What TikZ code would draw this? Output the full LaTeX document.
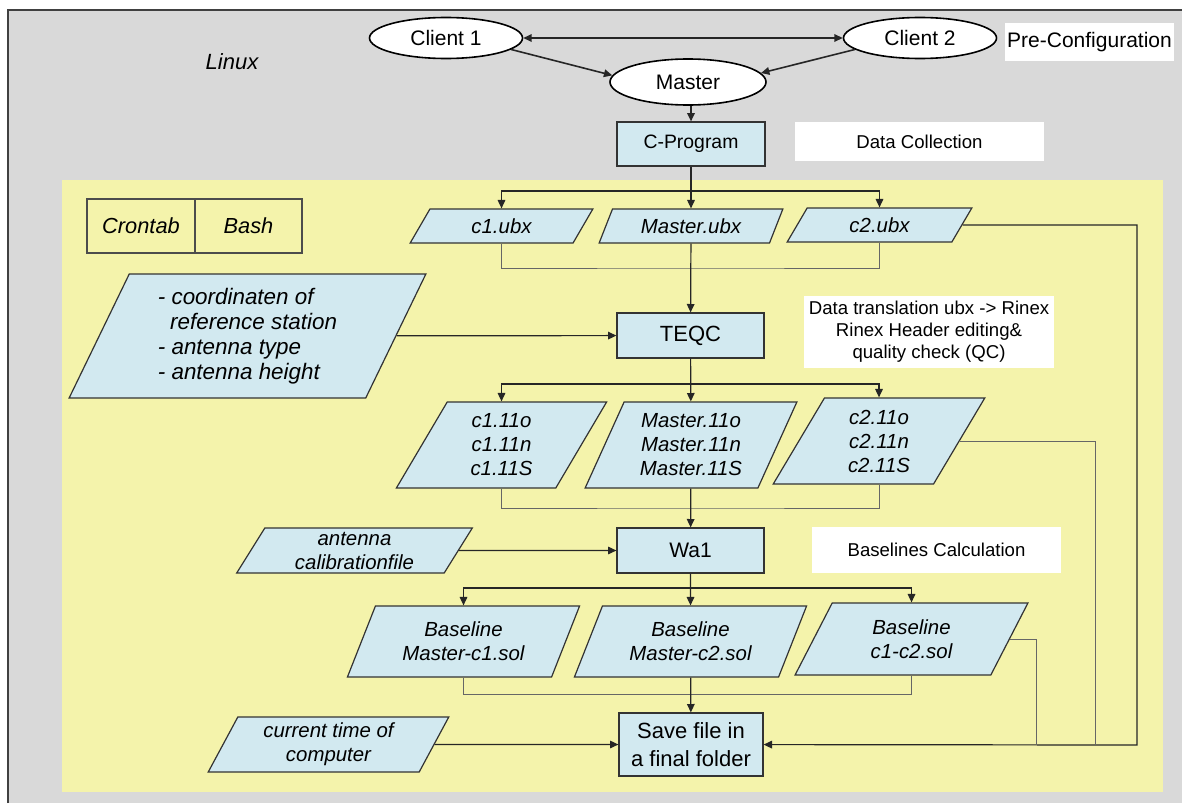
\documentclass[tikz,border=0pt]{standalone}
\usepackage{fontspec}
\setmainfont{Liberation Sans}
\usetikzlibrary{shapes.geometric,arrows.meta}

\definecolor{bggray}{HTML}{D9D9D9}
\definecolor{bgyellow}{HTML}{F4F3AB}
\definecolor{boxblue}{HTML}{D2E9F0}

\tikzset{
  proc/.style={draw=black!80, fill=boxblue, rectangle, line width=0.6pt,
    inner sep=1pt, align=center, font=\fontsize{10.5}{12}\selectfont},
  io/.style={draw=black!80, fill=boxblue, trapezium, trapezium left angle=65,
    trapezium right angle=115, trapezium stretches=true, line width=0.6pt,
    inner sep=1pt, align=center, font=\fontsize{10.2}{12}\selectfont\itshape},
  client/.style={draw=black, fill=white, ellipse, line width=0.8pt, inner sep=1pt,
    minimum width=76.5pt, minimum height=20.5pt, font=\fontsize{10.5}{12}\selectfont},
  infobox/.style={fill=white, inner sep=1pt, align=center,
    font=\fontsize{9.3}{11}\selectfont},
  tool/.style={draw=black!70, line width=0.6pt, minimum height=27pt,
    font=\fontsize{10.9}{12}\selectfont\itshape},
  conn/.style={draw=black!85, line width=0.6pt},
  thinconn/.style={draw=black!60, line width=0.45pt},
  arr/.style={conn, -{Triangle[length=4.2pt,width=3.8pt]}},
}

\begin{document}
\begin{tikzpicture}[x=0.5pt,y=-0.5pt]
  \useasboundingbox (0,0) rectangle (1182,803);
  % background areas
  \fill[bggray] (8,10) rectangle (1182,803);
  \draw[black!75, line width=0.6pt] (8,803) -- (8,10) -- (1182,10);
  \fill[bgyellow] (62,180) rectangle (1163,792);

  % pre-configuration
  \node[font=\fontsize{11}{13}\selectfont\itshape] (linux) at (232,62) {Linux};
  \node[client] (client1) at (446,38) {Client 1};
  \node[client] (client2) at (920,38) {Client 2};
  \node[client, minimum width=78pt, minimum height=23pt] (master) at (688,82) {Master};
  \node[infobox, minimum width=83.5pt, minimum height=19pt,
    font=\fontsize{10.5}{12}\selectfont] (preconf) at (1089.5,42) {Pre-Configuration};

  \draw[conn, line width=0.8pt, {Triangle[length=4.2pt,width=3.8pt]}-{Triangle[length=4.2pt,width=3.8pt]}]
    (client1) -- (client2);
  \draw[arr, line width=0.8pt] (client1.-10) -- (master.175);
  \draw[arr, line width=0.8pt] (client2.190) -- (master.7);

  % data collection
  \node[proc, minimum width=74pt, minimum height=22pt,
    font=\fontsize{9.7}{12}\selectfont] (cprog) at (691,144) {C-Program};
  \node[infobox, minimum width=124.5pt, minimum height=19.5pt] (datacoll) at (919.5,141.5) {Data Collection};
  \draw[arr, line width=0.8pt] (master.south -| cprog) -- (cprog);

  \node[tool, minimum width=54pt] (crontab) at (141,226) {Crontab};
  \node[tool, minimum width=53.5pt] (bash) at (248.5,226) {Bash};

  \node[io, minimum width=91.5pt, minimum height=17pt] (c1ubx) at (501.5,226) {c1.ubx};
  \node[io, minimum width=92pt, minimum height=17pt] (mubx) at (691,226) {Master.ubx};
  \node[io, minimum width=92.5pt, minimum height=17pt] (c2ubx) at (879.5,225) {c2.ubx};

  \coordinate (bus1) at (691,191);
  \coordinate (join1) at (691,268);
  \draw[arr] (cprog) -- (mubx);
  \draw[arr] (bus1) -| (c1ubx);
  \draw[arr] (bus1) -| (c2ubx);
  \draw[thinconn] (c1ubx) |- (join1) -| (c2ubx);

  % rinex translation
  \node[proc, minimum width=73.5pt, minimum height=22.5pt,
    font=\fontsize{11}{12}\selectfont] (teqc) at (690.5,335.5) {TEQC};
  \node[infobox, minimum width=125pt, minimum height=36pt] (transl) at (929,332)
    {Data translation ubx -> Rinex\\Rinex Header editing\&\\quality check (QC)};
  \node[io, minimum width=178.5pt, minimum height=62pt, align=left,
    font=\fontsize{11.2}{12.5}\selectfont\itshape] (coord) at (247.5,336)
    {- coordinaten of\\\hspace*{0.55em}reference station\\- antenna type\\- antenna height};
  \draw[arr] (mubx) -- (teqc);
  \draw[arr] (coord) -- (teqc);

  \node[io, minimum width=105.5pt, minimum height=43pt] (c1rnx) at (501.5,445) {c1.11o\\c1.11n\\c1.11S};
  \node[io, minimum width=106pt, minimum height=43pt] (mrnx) at (691,445) {Master.11o\\Master.11n\\Master.11S};
  \node[io, minimum width=106pt, minimum height=43pt] (c2rnx) at (879,441) {c2.11o\\c2.11n\\c2.11S};

  \coordinate (bus2) at (691,384);
  \coordinate (join2) at (691,508);
  \draw[arr] (teqc) -- (mrnx);
  \draw[arr] (bus2) -| (c1rnx);
  \draw[arr] (bus2) -| (c2rnx);
  \draw[thinconn] (c1rnx) |- (join2) -| (c2rnx);

  % baselines
  \node[proc, minimum width=73.5pt, minimum height=22.5pt] (wa1) at (690.5,550.5) {Wa1};
  \node[infobox, minimum width=124.5pt, minimum height=23pt] (blcalc) at (936.5,550) {Baselines Calculation};
  \node[io, minimum width=118.5pt, minimum height=22.5pt] (calib) at (354.5,550.5) {antenna\\calibrationfile};
  \draw[arr] (mrnx) -- (wa1);
  \draw[arr] (calib) -- (wa1);

  \node[io, minimum width=116.5pt, minimum height=35.5pt] (bl1) at (463.5,641.5) {Baseline\\Master-c1.sol};
  \node[io, minimum width=116.5pt, minimum height=35.5pt] (bl2) at (690.5,641.5) {Baseline\\Master-c2.sol};
  \node[io, minimum width=116.5pt, minimum height=36pt] (bl3) at (911.5,639) {Baseline\\c1-c2.sol};

  \coordinate (bus3) at (691,588);
  \coordinate (join3) at (691,694);
  \draw[arr] (wa1) -- (bl2);
  \draw[arr] (bus3) -| (bl1);
  \draw[arr] (bus3) -| (bl3);
  \draw[thinconn] (bl1) |- (join3) -| (bl3);

  % final storage
  \node[proc, minimum width=72pt, minimum height=31.5pt,
    font=\fontsize{11}{14}\selectfont] (save) at (691,744.5) {Save file in\\a final folder};
  \node[io, minimum width=120.5pt, minimum height=27.5pt] (curtime) at (328.5,744.5) {current time of\\computer};
  \draw[arr] (bl2) -- (save);
  \draw[arr] (curtime) -- (save);

  \coordinate (ret1) at (1137,745);
  \coordinate (ret2) at (1095,745);
  \coordinate (ret3) at (1036,745);
  \draw[arr] (c2ubx.east) -| (ret1) -- (save);
  \draw[thinconn] (c2rnx.east) -| (ret2);
  \draw[thinconn] (bl3.east) -| (ret3);
\end{tikzpicture}
\end{document}
